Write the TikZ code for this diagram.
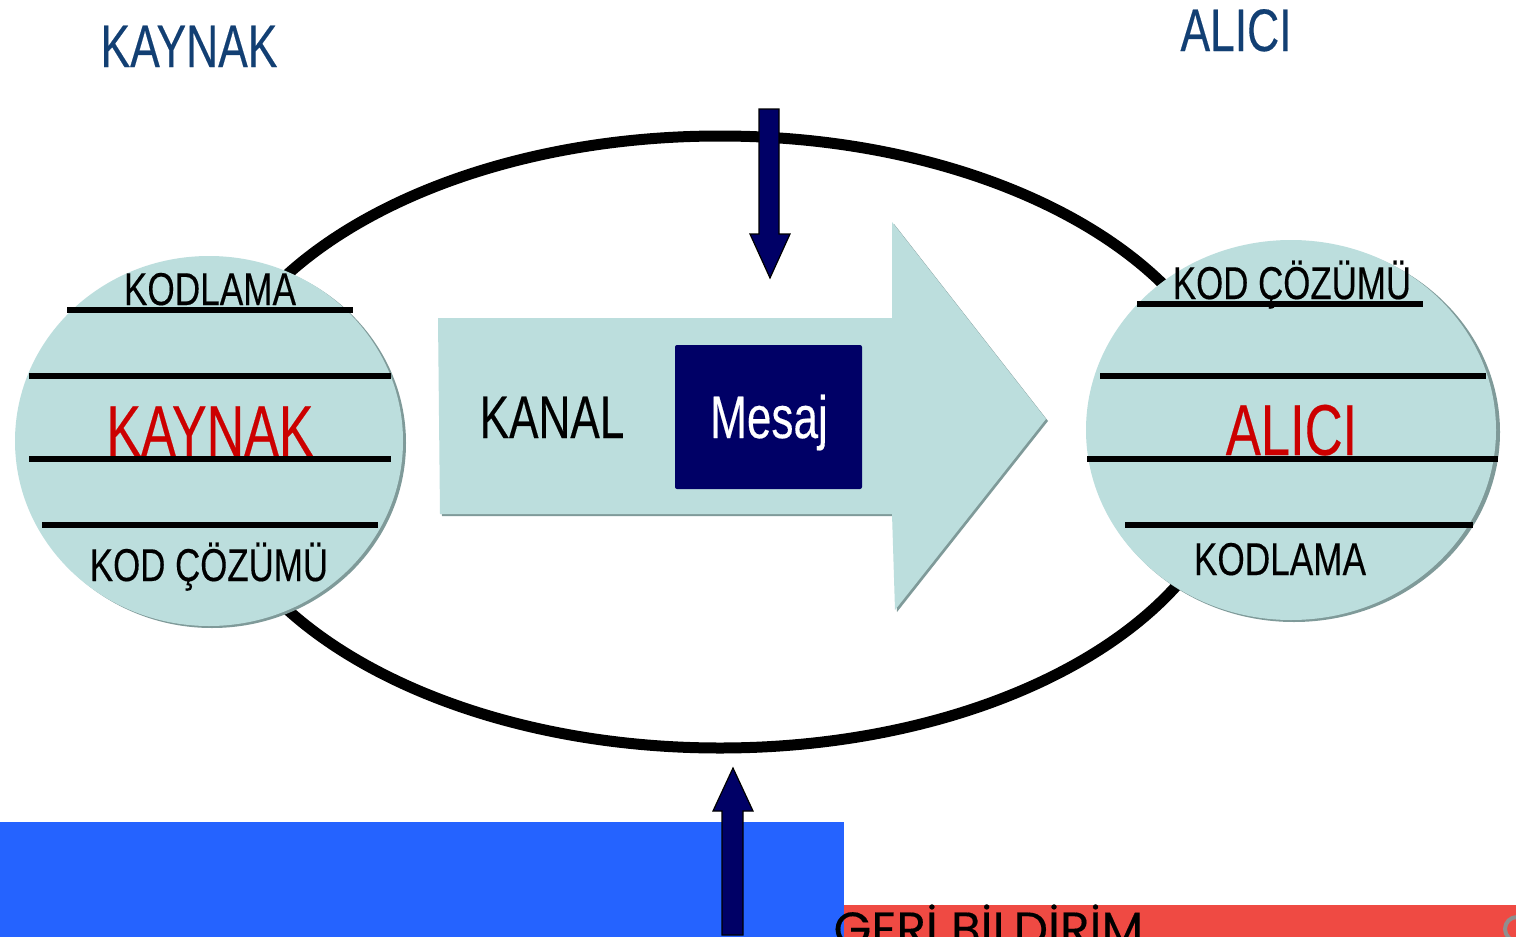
\documentclass[tikz,border=0pt]{standalone}
\usepackage{fontspec}
\usepackage{graphicx}
\setmainfont[FakeBold=0.3]{Liberation Sans}
\newfontfamily\lato[FakeBold=0.3]{Poppins}
\definecolor{teal1}{HTML}{BCDEDD}
\definecolor{edgeg}{HTML}{7F9A99}
\definecolor{navy1}{HTML}{000066}
\definecolor{titleblue}{HTML}{123F73}
\definecolor{redtxt}{HTML}{CC0000}
\definecolor{blue1}{HTML}{2563FF}
\definecolor{red1}{HTML}{EF4A43}
\definecolor{greymark}{HTML}{8F8F8F}
\newcommand{\lbl}[3]{\scalebox{#1}[1]{\fontsize{#2}{#2}\selectfont #3}}
\tikzset{
 txt/.style={inner sep=0pt,anchor=base},
 bar/.style={line width=6pt,black},
 darrow/.style={fill=navy1,draw=black,line width=1.2pt,line join=miter},
}
\begin{document}
\begin{tikzpicture}[x=1pt,y=-1pt]
\useasboundingbox (0,0) rectangle (1516,937);
\fill[white] (0,0) rectangle (1516,937);
% ring
\draw[black,line width=11pt] (720,442) ellipse [x radius=517,y radius=306];
% globes
\fill[edgeg] (212,443) ellipse [x radius=194,y radius=185];
\fill[edgeg] (1294,432) ellipse [x radius=206,y radius=190];
\fill[teal1] (209,441) ellipse [x radius=194,y radius=185];
\fill[teal1] (1291,430) ellipse [x radius=205,y radius=190];
% bars
\coordinate (la1) at (67,310); \coordinate (lb1) at (353,310);
\coordinate (la2) at (29,376); \coordinate (lb2) at (391,376);
\coordinate (la3) at (29,459); \coordinate (lb3) at (391,459);
\coordinate (la4) at (42,525); \coordinate (lb4) at (378,525);
\coordinate (ra1) at (1137,304); \coordinate (rb1) at (1423,304);
\coordinate (ra2) at (1100,376); \coordinate (rb2) at (1486,376);
\coordinate (ra3) at (1087,459); \coordinate (rb3) at (1498,459);
\coordinate (ra4) at (1125,525); \coordinate (rb4) at (1473,525);
\node[txt] (t1) at (210,305) {\lbl{.765}{46}{KODLAMA}};
\node[txt,text=redtxt] (t2) at (210,456) {\lbl{.722}{72}{KAYNAK}};
\node[txt] (t3) at (209,581) {\lbl{.758}{46}{KOD ÇÖZÜMÜ}};
\node[txt] (t4) at (1292,299) {\lbl{.758}{46}{KOD ÇÖZÜMÜ}};
\node[txt,text=redtxt] (t5) at (1291.5,455) {\lbl{.73}{72}{ALICI}};
\node[txt] (t6) at (1280,575) {\lbl{.765}{46}{KODLAMA}};
\foreach \i in {1,2,3,4}{\draw[bar] (la\i) -- (lb\i); \draw[bar] (ra\i) -- (rb\i);}
% big arrow
\coordinate (p1) at (438,318); \coordinate (p2) at (892,318); \coordinate (p3) at (892,222);
\coordinate (p4) at (1046,419); \coordinate (p5) at (895,610); \coordinate (p6) at (892,514); \coordinate (p7) at (440,514);
\fill[edgeg] ([shift={(2,2)}]p1) -- ([shift={(2,2)}]p2) -- ([shift={(2,2)}]p3) -- ([shift={(2,2)}]p4) -- ([shift={(2,2)}]p5) -- ([shift={(2,2)}]p6) -- ([shift={(2,2)}]p7) -- cycle;
\fill[teal1] (p1) -- (p2) -- (p3) -- (p4) -- (p5) -- (p6) -- (p7) -- cycle;
\node[txt] (kanal) at (552,438) {\lbl{.735}{60}{KANAL}};
\node[fill=navy1,rounded corners=2pt,minimum width=187pt,minimum height=144pt,inner sep=0pt] (mesaj) at (768.5,417) {};
\node[txt,text=white] (mesajt) at (769,438) {\lbl{.735}{60}{Mesaj}};
% headings
\node[txt,text=titleblue] (h1) at (189,67) {\lbl{.74}{60}{KAYNAK}};
\node[txt,text=titleblue] (h2) at (1236,51) {\lbl{.74}{60}{ALICI}};
% bottom bands
\fill[blue1] (0,822) rectangle (844,937);
\fill[red1] (844,905) rectangle (1516,937);
\draw[greymark,line width=4pt] (1517,929) circle [radius=12];
\begin{scope}
\clip (820,880) rectangle (1516,937);
\node[txt] (geri) at (988.5,946) {\lbl{1.013}{48}{\lato GERİ BİLDİRİM}};
\end{scope}
% arrows
\draw[darrow] (759,109) -- (779,109) -- (779,234) -- (790,234) -- (770,278) -- (750,234) -- (759,234) -- cycle;
\draw[darrow] (722,935) -- (722,811) -- (713,811) -- (733,768) -- (753,811) -- (743,811) -- (743,935) -- cycle;
\end{tikzpicture}
\end{document}
